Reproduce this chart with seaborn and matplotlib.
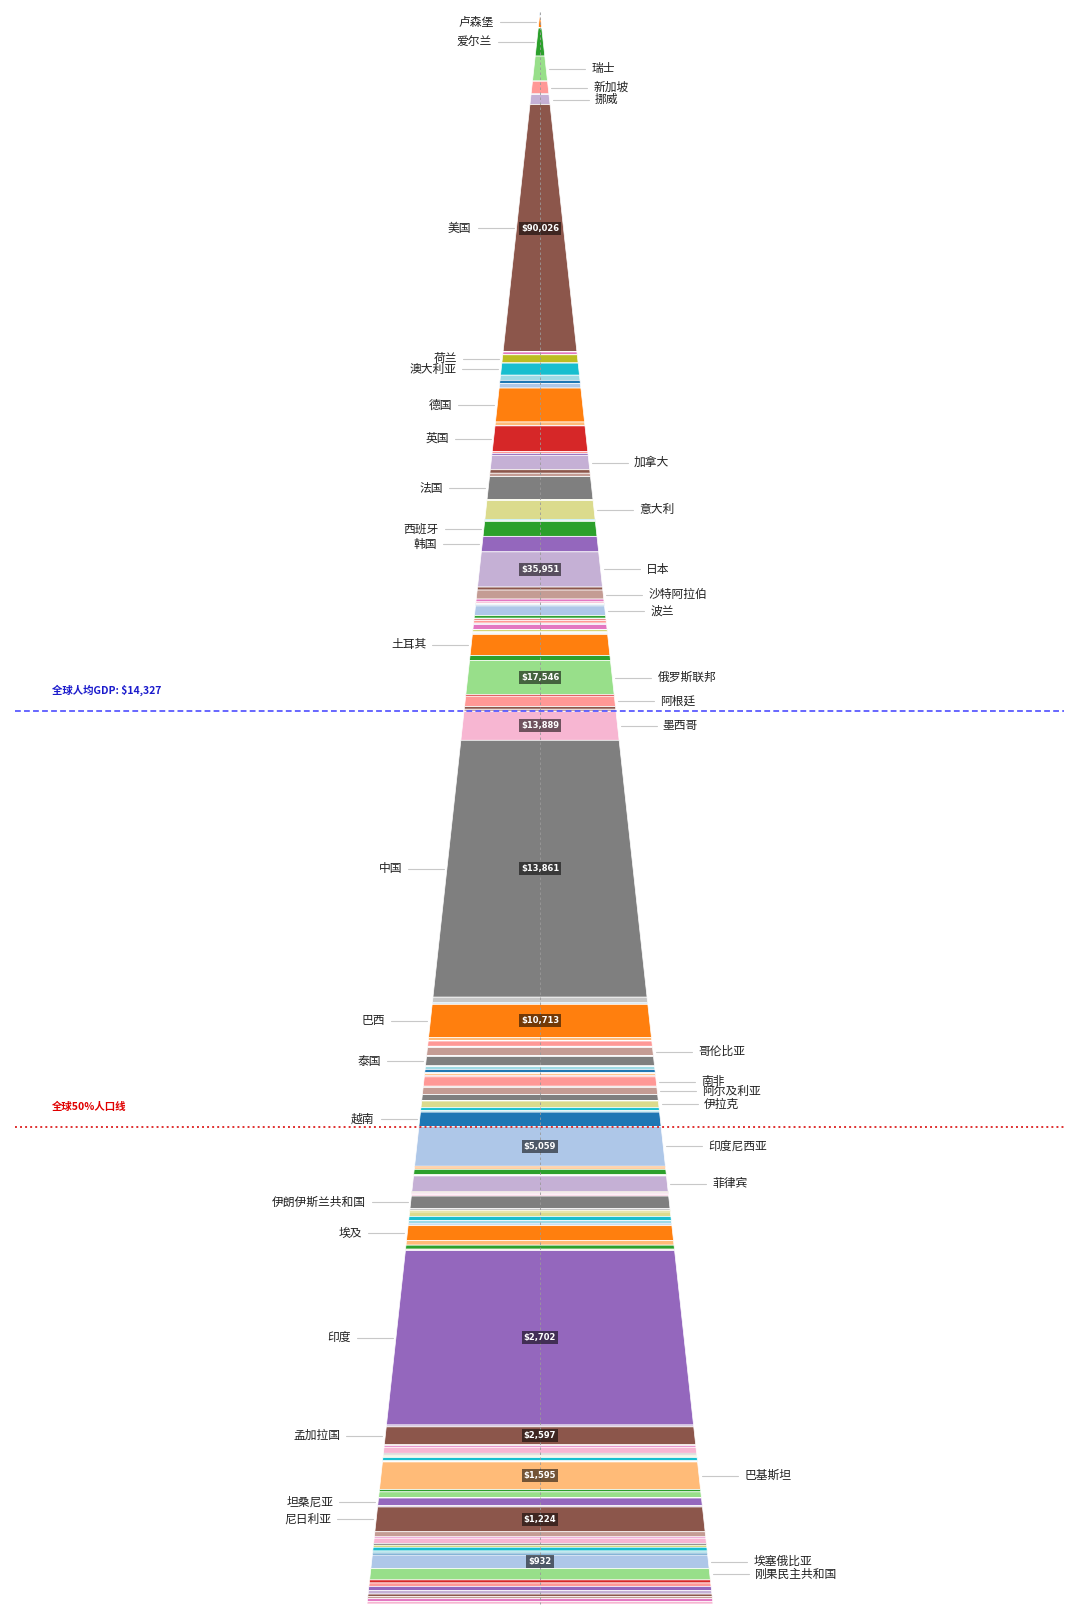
import numpy as np
import pandas as pd
import matplotlib
matplotlib.use('Agg')
import matplotlib.pyplot as plt
import seaborn as sns

# countries ordered by GDP per capita (USD), population in millions
countries = [
    '摩纳哥', '列支敦士登', '卢森堡', '百慕大', '爱尔兰', '瑞士', '开曼群岛', '新加坡', '冰岛', '挪威',
    '美国', '中国澳门', '丹麦', '圣马力诺', '法罗群岛', '格陵兰', '荷兰', '安道尔', '澳大利亚', '比利时',
    '中国香港', '瑞典', '德国', '以色列', '格恩西岛', '泽西岛', '英国', '芬兰', '新西兰', '加拿大',
    '阿联酋', '奥地利', '巴哈马', '文莱', '法国', '塞浦路斯', '斯洛文尼亚', '意大利', '波多黎各', '爱沙尼亚',
    '巴林', '巴巴多斯', '瑙鲁', '新喀里多尼亚', '西班牙', '阿鲁巴', '库拉索', '圣基茨和尼维斯', '韩国', '日本',
    '捷克', '沙特阿拉伯', '葡萄牙', '斯洛伐克', '立陶宛', '拉脱维亚', '安提瓜和巴布达', '塞舌尔', '马尔代夫', '法属波利尼西亚',
    '克罗地亚', '波兰', '法属圣马丁', '特克斯和凯科斯群岛', '匈牙利', '乌拉圭', '阿曼', '希腊', '圭亚那', '巴拿马',
    '圣文森特和格林纳丁斯', '格林纳达', '罗马尼亚', '多米尼克', '毛里求斯', '黑山', '哥斯达黎加', '塞尔维亚', '圣卢西亚', '帕劳',
    '北马其顿', '格鲁吉亚', '土耳其', '安圭拉', '智利', '俄罗斯联邦', '保加利亚', '阿根廷', '荷属圣马丁', '英属维尔京群岛',
    '多米尼加', '白俄罗斯', '关岛', '墨西哥', '中国', '马来西亚', '苏里南', '基里巴斯', '图瓦卢', '汤加',
    '土库曼斯坦', '蒙古', '巴西', '哈萨克斯坦', '瓦努阿图', '萨摩亚', '博茨瓦纳', '秘鲁', '阿尔巴尼亚', '亚美尼亚',
    '牙买加', '哥伦比亚', '波黑', '摩尔多瓦', '泰国', '科索沃', '斐济', '佛得角', '赤道几内亚', '危地马拉',
    '斯里兰卡', '萨尔瓦多', '东帝汶', '约旦', '不丹', '斯威士兰', '利比亚', '南非', '纳米比亚', '吉布提',
    '黎巴嫩', '阿尔及利亚', '科摩罗', '所罗门群岛', '乌克兰', '密克罗尼西亚', '莱索托', '伊拉克', '厄瓜多尔', '突尼斯',
    '越南', '印度尼西亚', '玻利维亚', '阿塞拜疆', '摩洛哥', '洪都拉斯', '北马里亚纳群岛', '美属萨摩亚', '瓦利斯和富图纳', '菲律宾',
    '尼加拉瓜', '老挝', '吉尔吉斯斯坦', '海地', '伊朗伊斯兰共和国', '柬埔寨', '巴布亚新几内亚', '加纳', '尼泊尔', '叙利亚',
    '塔吉克斯坦', '刚果（布）', '埃及', '乌兹别克斯坦', '科特迪瓦', '毛里塔尼亚', '厄立特里亚', '冈比亚', '印度', '津巴布韦',
    '孟加拉国', '多哥', '贝宁', '缅甸', '几内亚', '塞拉利昂', '利比里亚', '南苏丹', '喀麦隆', '中非',
    '巴勒斯坦', '托克劳', '纽埃', '巴基斯坦', '赞比亚', '肯尼亚', '几内亚比绍', '伯利兹', '坦桑尼亚', '卢旺达',
    '尼日利亚', '乌干达', '布隆迪', '苏丹', '塞内加尔', '西撒哈拉', '索马里', '马约特', '安哥拉', '马拉维',
    '乍得', '埃塞俄比亚', '马提尼克', '法属圭亚那', '瓜德罗普', '刚果民主共和国', '马达加斯加', '莫桑比克', '阿富汗', '也门',
    '马里', '布基纳法索', '尼日尔', '朝鲜',
]

population = [
    0.04, 0.04, 0.67, 0.06, 5.3, 8.9, 0.07, 6.0, 0.39, 5.5,
    336.0, 0.7, 5.95, 0.03, 0.05, 0.06, 18.0, 0.08, 27.2, 11.8,
    7.5, 10.6, 84.0, 9.9, 0.06, 0.1, 68.5, 5.6, 5.2, 41.0,
    10.0, 9.1, 0.4, 0.45, 68.3, 1.3, 2.1, 58.9, 3.2, 1.37,
    1.6, 0.28, 0.01, 0.29, 48.4, 0.1, 0.15, 0.05, 51.7, 123.5,
    10.9, 33.0, 10.4, 5.4, 2.8, 1.9, 0.1, 0.12, 0.52, 0.28,
    3.9, 36.7, 0.03, 0.05, 9.6, 3.4, 5.2, 10.3, 0.8, 4.5,
    0.1, 0.13, 19.0, 0.07, 1.26, 0.62, 5.2, 6.6, 0.18, 0.02,
    1.8, 3.7, 84.0, 0.02, 19.6, 144.0, 6.4, 45.0, 0.04, 0.03,
    11.3, 9.2, 0.17, 130.0, 1385.0, 34.0, 0.62, 0.13, 0.01, 0.1,
    6.5, 3.4, 210.0, 20.0, 0.33, 0.22, 2.6, 34.0, 2.8, 2.8,
    2.8, 53.0, 3.2, 2.5, 62.0, 1.7, 0.93, 0.6, 1.7, 18.0,
    22.0, 6.3, 1.36, 11.3, 0.78, 1.2, 6.9, 63.0, 2.6, 1.1,
    5.4, 46.8, 0.85, 0.74, 41.0, 0.11, 2.3, 46.0, 18.1, 12.2,
    101.0, 283.0, 12.4, 10.1, 37.8, 10.6, 0.05, 0.045, 0.011, 115.0,
    7.0, 7.6, 7.1, 11.7, 92.0, 17.0, 10.3, 34.0, 30.9, 23.0,
    10.1, 6.1, 114.0, 36.0, 31.0, 4.9, 3.7, 2.7, 1455.0, 16.7,
    160.0, 9.3, 13.7, 54.5, 14.2, 8.6, 5.4, 11.0, 28.6, 5.7,
    5.4, 0.002, 0.002, 255.0, 20.6, 55.0, 2.1, 0.41, 70.0, 14.0,
    235.0, 48.6, 13.2, 50.0, 18.0, 0.6, 18.1, 0.3, 36.7, 21.0,
    18.3, 130.0, 0.35, 0.3, 0.38, 112.0, 30.3, 33.9, 42.0, 34.0,
    23.3, 23.0, 27.0, 26.0,
]

gdp_per_capita = [
    256000, 197000, 140000, 125000, 108000, 104000, 96000, 92000, 90900, 90500,
    90026, 76000, 71000, 70000, 69000, 66000, 64000, 63000, 62000, 57000,
    56500, 56000, 55800, 54000, 53500, 53000, 52500, 52000, 51000, 50500,
    49500, 48500, 47500, 47000, 46500, 45000, 44000, 41000, 40000, 39000,
    38500, 38000, 37500, 37000, 36500, 36400, 36300, 36250, 36200, 35951,
    35000, 34000, 29000, 27000, 26500, 25000, 24500, 24000, 23500, 23000,
    22500, 22000, 21500, 21000, 20800, 20500, 20300, 20100, 19900, 19700,
    19500, 19300, 19100, 18900, 18700, 18500, 18300, 18100, 17950, 17900,
    17850, 17800, 17700, 17650, 17600, 17546, 17000, 14800, 14700, 14600,
    14500, 14450, 14400, 13889, 13861, 13000, 12500, 12300, 12100, 11900,
    11500, 11000, 10713, 10500, 10200, 10000, 9800, 9500, 9200, 9000,
    8800, 8500, 8300, 8100, 7900, 7700, 7500, 7300, 7100, 6900,
    6800, 6700, 6600, 6500, 6400, 6300, 6200, 6100, 6000, 5900,
    5800, 5700, 5600, 5500, 5450, 5400, 5350, 5300, 5250, 5200,
    5100, 5059, 5000, 4950, 4900, 4850, 4800, 4750, 4700, 4650,
    4600, 4550, 4500, 4450, 4400, 4300, 4200, 4100, 4000, 3900,
    3800, 3700, 3600, 3500, 3400, 3300, 3200, 3100, 2702, 2650,
    2597, 2500, 2400, 2300, 2200, 2100, 2000, 1900, 1800, 1750,
    1700, 1680, 1650, 1595, 1550, 1500, 1450, 1400, 1350, 1300,
    1224, 1150, 1100, 1050, 1020, 1000, 980, 960, 950, 945,
    940, 932, 900, 880, 860, 840, 800, 760, 720, 680,
    640, 600, 560, 520,
]

world_gdp_per_capita = 14327

# which labelled countries sit on the right-hand side
right_side = {'瑞士', '新加坡', '挪威', '加拿大', '意大利', '日本', '沙特阿拉伯', '波兰',
              '俄罗斯联邦', '阿根廷', '墨西哥', '哥伦比亚', '南非', '阿尔及利亚', '伊拉克',
              '印度尼西亚', '菲律宾', '巴基斯坦', '埃塞俄比亚', '刚果民主共和国'}

df = pd.DataFrame({'name': countries, 'people': population, 'gdp': gdp_per_capita})
df = df.sort_values('gdp', ascending=False, kind='stable').reset_index(drop=True)
total = df['people'].sum()
df['cum_end'] = df['people'].cumsum()
df['cum_start'] = df['cum_end'] - df['people']
# triangle area grows with depth^2, so depth = sqrt(share) keeps area ~ population
df['d0'] = np.sqrt(df['cum_start'] / total)
df['d1'] = np.sqrt(df['cum_end'] / total)

sns.set_theme(style='white')
plt.rcParams['font.family'] = ['Noto Sans CJK SC', 'DejaVu Sans']
palette = sns.color_palette('tab20')

APEX, DEPTH, HALF = 12, 1592, 173


def ypos(d):
    return APEX + DEPTH * d


def half(d):
    return HALF * d


fig = plt.figure(figsize=(10.8, 16.2), dpi=100)
ax = fig.add_axes([0, 0, 1, 1])
ax.set_xlim(-540, 540)
ax.set_ylim(1620, 0)
ax.axis('off')

for i, r in df.iterrows():
    y0, y1 = ypos(r.d0), ypos(r.d1)
    h0, h1 = half(r.d0), half(r.d1)
    ax.fill([-h0, h0, h1, -h1], [y0, y0, y1, y1], color=palette[i % 20],
            ec='white', lw=0.5, zorder=2)

# centre guide
ax.plot([0, 0], [ypos(0), ypos(1)], ls=(0, (3, 3)), color='#9a9a9a', lw=0.6, zorder=3)

# country labels and value tags
for i, r in df.iterrows():
    if r.d1 - r.d0 < 0.004:
        continue
    dm = (r.d0 + r.d1) / 2
    yc = ypos(dm)
    edge = half(dm)
    if r['name'] in right_side:
        ax.plot([edge + 3, edge + 39], [yc, yc], color='#c8c8c8', lw=0.8, zorder=3)
        ax.text(edge + 45, yc, r['name'], ha='left', va='center', fontsize=8.5, color='#222222')
    else:
        ax.plot([-edge - 3, -edge - 39], [yc, yc], color='#c8c8c8', lw=0.8, zorder=3)
        ax.text(-edge - 45, yc, r['name'], ha='right', va='center', fontsize=8.5, color='#222222')
    if r.people >= 120:
        ax.text(0, yc, f'${r.gdp:,.0f}', ha='center', va='center', fontsize=6,
                fontweight='bold', color='white', family='DejaVu Sans', zorder=5,
                bbox=dict(boxstyle='square,pad=0.25', fc='black', alpha=0.55, ec='none'))

# world average GDP per capita line
gi = df.index[df['gdp'] < world_gdp_per_capita][0]
yg = ypos(df.loc[gi, 'd0'])
ax.axhline(yg, xmin=0.014, xmax=0.985, color='#5b5bff', ls=(0, (3.2, 1.8)), lw=1.3, zorder=4)
ax.text(-488, yg - 21, f'全球人均GDP: ${world_gdp_per_capita:,}', ha='left', va='center',
        fontsize=7.5, fontweight='bold', color='#1a1acc')

# half of world population line
pi = df.index[df['cum_end'] >= total / 2][0]
yp = ypos(df.loc[pi, 'd0'])
ax.axhline(yp, xmin=0.014, xmax=0.985, color='#e03030', ls=(0, (1, 1.6)), lw=1.4, zorder=4)
ax.text(-488, yp - 20, '全球50%人口线', ha='left', va='center',
        fontsize=7.5, fontweight='bold', color='#e00000')

fig.savefig('out.png', dpi=100, facecolor='white')
